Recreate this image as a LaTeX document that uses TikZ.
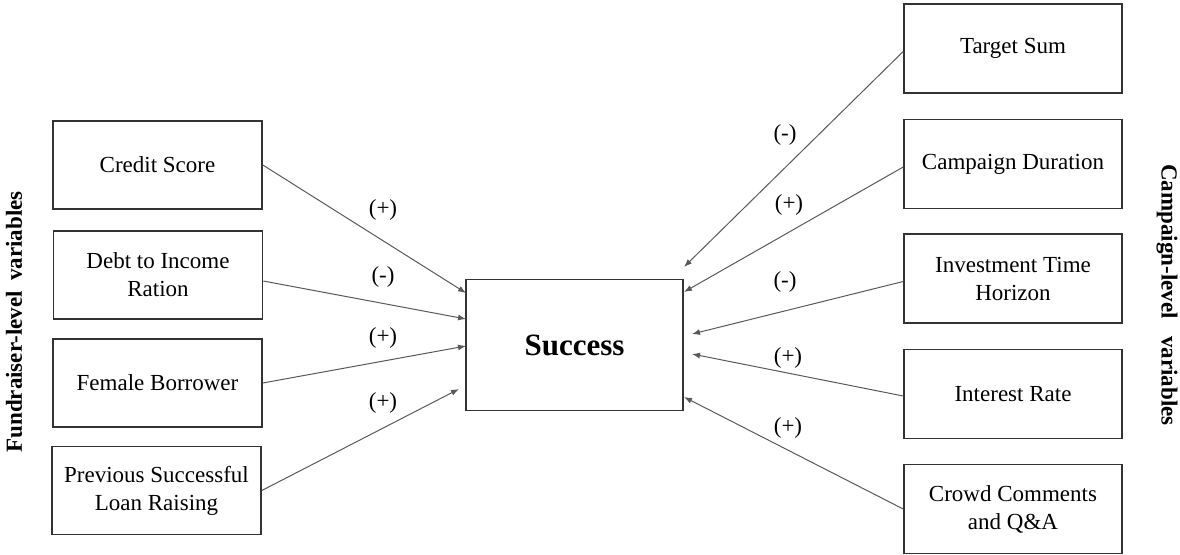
\documentclass[tikz,border=0pt]{standalone}
\usepackage{fontspec}
\setmainfont{Liberation Serif}
\usetikzlibrary{arrows.meta}
\begin{document}
\begin{tikzpicture}[x=1pt,y=-1pt,
  box/.style={draw=black!80, line width=1.6pt, minimum width=209pt, minimum height=88pt,
    align=center, inner sep=0pt, font=\fontsize{23}{28}\selectfont},
  rbox/.style={box, minimum width=218pt, minimum height=89pt},
  link/.style={draw=black!65, line width=1pt, -{Latex[length=8pt,width=6pt]}},
  sign/.style={font=\fontsize{23}{28}\selectfont},
  side/.style={font=\bfseries\fontsize{23}{28}\selectfont}]
\useasboundingbox (0,0) rectangle (1180,554);

% left boxes
\node[box] (cs) at (157.5,165) {Credit Score};
\node[box] (dti) at (158,275) {Debt to Income\\Ration};
\node[box] (fb) at (157.5,383) {Female Borrower};
\node[box] (pl) at (156.5,490.5) {Previous Successful\\Loan Raising};

% centre
\node[box, minimum width=217pt, minimum height=131pt, font=\bfseries\fontsize{31}{36}\selectfont] (succ) at (574.5,345) {Success};

% right boxes
\node[rbox] (ts) at (1013,48.5) {Target Sum};
\node[rbox] (cd) at (1013,164) {Campaign Duration};
\node[rbox] (it) at (1013,278.5) {Investment Time\\Horizon};
\node[rbox] (ir) at (1013,394) {Interest Rate};
\node[rbox] (cc) at (1013,509) {Crowd Comments\\and Q\&A};

% arrow targets
\coordinate (t1) at (466,293);
\coordinate (t2) at (466,319);
\coordinate (t3) at (466,346);
\coordinate (t4) at (459,389);
\coordinate (r1) at (684,267);
\coordinate (r2) at (684,292);
\coordinate (r3) at (692,334);
\coordinate (r4) at (692,354);
\coordinate (r5) at (684,397);

\draw[link] (cs.east) -- (t1);
\draw[link] ([yshift=-6pt]dti.east) -- (t2);
\draw[link] (fb.east) -- (t3);
\draw[link] (pl.east) -- (t4);
\draw[link] ([yshift=-3pt]ts.west) -- (r1);
\draw[link] ([yshift=-3pt]cd.west) -- (r2);
\draw[link] ([yshift=-3pt]it.west) -- (r3);
\draw[link] ([yshift=-2pt]ir.west) -- (r4);
\draw[link] (cc.west) -- (r5);

% signs
\node[sign] (s1) at (383,210) {(+)};
\node[sign] (s2) at (383,277) {(-)};
\node[sign] (s3) at (383,338) {(+)};
\node[sign] (s4) at (383,403) {(+)};
\node[sign] (s5) at (785,135) {(-)};
\node[sign] (s6) at (789,205) {(+)};
\node[sign] (s7) at (785,282) {(-)};
\node[sign] (s8) at (788,358) {(+)};
\node[sign] (s9) at (788,428) {(+)};

% side labels
\node[side, rotate=90] (fl) at (14,322) {Fundraiser-level\hspace{0.45em}variables};
\node[side, rotate=-90] (cl) at (1167,295) {Campaign-level\hspace{0.75em}variables};
\end{tikzpicture}
\end{document}
